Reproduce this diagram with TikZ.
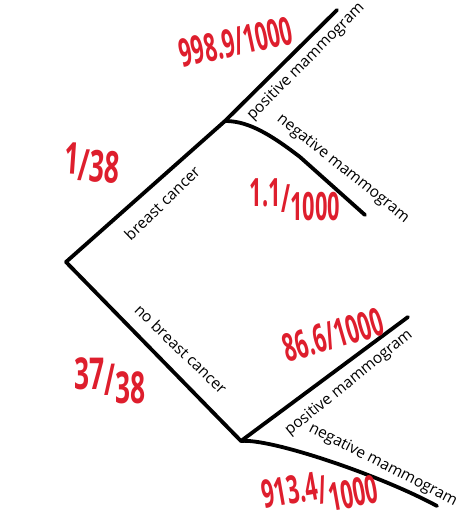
\documentclass[tikz,border=0pt]{standalone}
\usepackage{fontspec}
\setmainfont{Open Sans}
\definecolor{hred}{RGB}{222,30,45}
\tikzset{
  branch/.style={line width=3.8pt, line cap=round, line join=round},
  lbl/.style={font=\fontsize{15.5}{15.5}\selectfont, inner sep=0.5pt},
  num/.style={text=hred, inner sep=0pt},
}
\newcommand\rnum[1]{\scalebox{0.56}[1]{\fontsize{39}{39}\selectfont\bfseries #1}}
\newcommand\rbig[1]{\scalebox{0.6}[1]{\fontsize{44}{44}\selectfont\bfseries #1}}
\newcommand\up[1]{\raisebox{6pt}{#1}}
\newcommand\dn[1]{\raisebox{-8pt}{#1}}
\begin{document}
\begin{tikzpicture}[x=1pt,y=-1pt]
\useasboundingbox (0,0) rectangle (462,523);
\coordinate (root) at (66,262);
\coordinate (bc) at (225,121);
\coordinate (nbc) at (241,441);
\coordinate (e1) at (337,10);
\coordinate (e2) at (365,215);
\coordinate (e3) at (408,317);
\coordinate (e4) at (437,506);

\draw[branch] (root) -- (bc);
\draw[branch] (root) -- (nbc);
\draw[branch] (bc) -- (e1);
\draw[branch] (bc) .. controls (245,121) and (265,130) .. (300,157) -- (e2);
\draw[branch] (nbc) -- (e3);
\draw[branch] (nbc) .. controls (270,438) and (380,475) .. (e4);

\node[lbl, rotate=44] (lbc) at (162,203) {breast cancer};
\node[lbl, rotate=-44] (lnbc) at (181,349) {no breast cancer};
\node[lbl, rotate=45] (lupos) at (306,62) {positive mammogram};
\node[lbl, rotate=-38.5] (luneg) at (343,169) {negative mammogram};
\node[lbl, rotate=39] (llpos) at (349,383) {positive mammogram};
\node[lbl, rotate=-27] (llneg) at (383,465) {negative mammogram};

\node[num, rotate=12] (n1) at (236,42) {\rnum{998.9/1000}};
\node[num, rotate=-4] (n2) at (92,163) {\rbig{\up{1}/38}};
\node[num] (n3) at (295,200) {\rnum{\up{1.1}/\dn{1000}}};
\node[num] (n4) at (110,381) {\rbig{\up{37}/\dn{38}}};
\node[num, rotate=16] (n5) at (333,335) {\rnum{86.6/1000}};
\node[num, rotate=10] (n6) at (320,492) {\rnum{\up{913.4}/\dn{1000}}};
\end{tikzpicture}
\end{document}
